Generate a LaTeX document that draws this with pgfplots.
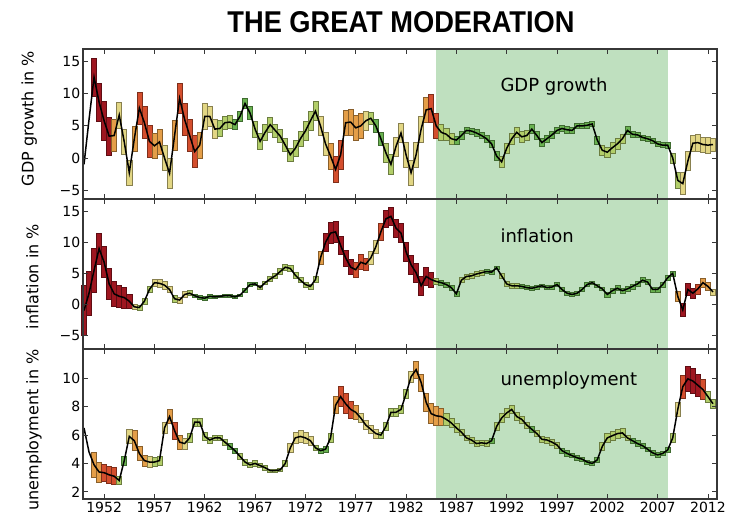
\documentclass[border=0pt]{standalone}
\usepackage{fontspec}
\setmainfont{DejaVu Sans}
\newfontfamily\titlefont{Liberation Sans}
\usepackage{graphicx}
\usepackage{pgfplots}
\usepackage{pgfplotstable}
\pgfplotsset{compat=1.18}

\definecolor{modgreen}{RGB}{191,224,191}
\definecolor{axisgray}{RGB}{55,55,55}

\pgfdeclareplotmark{ebox}{%
  \pgfpathrectanglecorners
    {\pgfplotspointaxisdirectionxy{-0.25}{-\errval}}%
    {\pgfplotspointaxisdirectionxy{0.25}{\errval}}%
  \pgfusepathqfillstroke}

\pgfplotstableread{
x y e c
1950.0 -1.0 0 0
1950.5 6.0 0 0
1951.0 12.6 3.0 5
1951.5 8.7 3.0 5
1952.0 5.8 3.0 5
1952.5 3.4 3.0 5
1953.0 3.5 2.5 3
1953.5 6.7 2.0 2
1954.0 2.5 2.0 2
1954.5 -2.3 2.0 2
1955.0 3.0 2.0 3
1955.5 7.8 2.5 4
1956.0 5.5 2.5 4
1956.5 2.6 2.5 4
1957.0 1.9 2.0 3
1957.5 2.5 2.0 3
1958.0 0.0 2.0 2
1958.5 -2.4 2.3 2
1959.0 3.5 2.3 3
1959.5 9.3 2.3 4
1960.0 6.0 2.5 4
1960.5 3.5 2.5 4
1961.0 1.0 2.5 4
1961.5 2.0 2.0 3
1962.0 6.5 2.0 2
1962.5 6.5 1.5 2
1963.0 4.5 1.5 2
1963.5 4.6 1.2 1
1964.0 5.5 1.0 1
1964.5 5.6 1.0 1
1965.0 5.2 0.8 0
1965.5 6.5 0.8 0
1966.0 8.5 0.8 0
1966.5 7.0 1.0 0
1967.0 4.5 1.2 1
1967.5 2.6 1.2 1
1968.0 4.0 1.2 1
1968.5 5.2 1.2 1
1969.0 4.3 1.0 1
1969.5 3.4 1.0 1
1970.0 2.0 1.0 1
1970.5 0.5 1.0 1
1971.0 1.5 1.2 1
1971.5 3.0 1.2 1
1972.0 4.2 1.5 1
1972.5 5.8 1.5 1
1973.0 7.3 1.5 1
1973.5 5.0 1.5 2
1974.0 2.2 1.8 2
1974.5 0.3 2.0 3
1975.0 -1.8 2.0 4
1975.5 0.5 2.2 4
1976.0 5.5 2.0 3
1976.5 5.6 2.0 3
1977.0 4.7 2.0 3
1977.5 5.0 2.0 3
1978.0 5.8 1.5 2
1978.5 6.2 1.0 1
1979.0 5.0 1.0 0
1979.5 3.0 1.0 0
1980.0 0.8 1.5 1
1980.5 -1.0 1.5 1
1981.0 1.8 1.5 2
1981.5 3.9 1.5 2
1982.0 0.5 2.0 2
1982.5 -2.3 2.0 2
1983.0 0.5 2.0 2
1983.5 4.5 2.0 2
1984.0 7.5 2.0 3
1984.5 7.7 2.2 4
1985.0 5.0 2.0 4
1985.5 4.0 1.2 1
1986.0 3.7 1.0 1
1986.5 3.0 0.8 1
1987.0 2.8 0.6 0
1987.5 3.5 0.6 0
1988.0 4.3 0.5 0
1988.5 4.2 0.5 0
1989.0 3.9 0.5 0
1989.5 3.5 0.5 0
1990.0 3.0 0.5 0
1990.5 2.2 0.6 0
1991.0 0.3 0.7 0
1991.5 -0.6 0.8 1
1992.0 1.5 0.8 1
1992.5 3.0 0.8 1
1993.0 4.0 0.8 1
1993.5 3.3 0.8 1
1994.0 3.5 0.8 1
1994.5 4.5 0.7 0
1995.0 3.5 0.6 0
1995.5 2.4 0.6 0
1996.0 3.0 0.6 0
1996.5 3.6 0.5 0
1997.0 4.3 0.5 0
1997.5 4.6 0.5 0
1998.0 4.4 0.5 0
1998.5 4.3 0.5 0
1999.0 5.0 0.4 0
1999.5 5.0 0.4 0
2000.0 5.1 0.4 0
2000.5 5.3 0.4 0
2001.0 2.8 0.6 0
2001.5 1.2 0.8 1
2002.0 0.9 0.8 1
2002.5 1.6 0.8 1
2003.0 2.2 0.8 1
2003.5 3.0 0.7 1
2004.0 4.3 0.6 0
2004.5 3.7 0.5 0
2005.0 3.6 0.4 0
2005.5 3.2 0.4 0
2006.0 3.0 0.4 0
2006.5 2.7 0.4 0
2007.0 2.2 0.4 0
2007.5 2.0 0.4 0
2008.0 2.0 0.5 0
2008.5 0.0 0.8 1
2009.0 -3.5 1.2 1
2009.5 -4.0 1.7 2
2010.0 -0.5 1.5 2
2010.5 2.3 1.3 2
2011.0 2.4 1.3 2
2011.5 2.1 1.2 2
2012.0 2.0 1.2 2
2012.5 2.1 1.0 2
}\gdp

\pgfplotstableread{
x y e c
1950.0 -1.0 4.0 5
1950.5 1.8 3.5 5
1951.0 5.5 3.5 5
1951.5 9.0 2.5 5
1952.0 6.8 2.5 5
1952.5 3.3 2.5 5
1953.0 1.7 2.0 5
1953.5 1.3 1.7 5
1954.0 1.1 1.7 5
1954.5 0.5 1.2 5
1955.0 -0.4 0.4 2
1955.5 -0.5 0.4 1
1956.0 0.5 0.5 1
1956.5 2.4 0.5 1
1957.0 3.5 0.6 2
1957.5 3.4 0.7 2
1958.0 3.1 0.7 2
1958.5 2.4 0.5 2
1959.0 0.9 0.5 1
1959.5 0.7 0.5 2
1960.0 1.6 0.5 2
1960.5 1.8 0.4 1
1961.0 1.4 0.3 0
1961.5 1.1 0.3 0
1962.0 1.0 0.3 0
1962.5 1.3 0.3 0
1963.0 1.2 0.2 0
1963.5 1.3 0.2 0
1964.0 1.4 0.2 0
1964.5 1.4 0.2 0
1965.0 1.2 0.2 0
1965.5 1.5 0.2 0
1966.0 2.3 0.3 0
1966.5 3.2 0.3 0
1967.0 3.3 0.3 0
1967.5 2.7 0.3 1
1968.0 3.5 0.3 1
1968.5 4.1 0.4 1
1969.0 4.6 0.4 1
1969.5 5.3 0.5 1
1970.0 6.0 0.5 1
1970.5 5.8 0.5 1
1971.0 4.7 0.5 1
1971.5 3.9 0.4 1
1972.0 3.2 0.4 1
1972.5 2.9 0.4 1
1973.0 4.0 0.5 1
1973.5 7.5 1.0 3
1974.0 10.0 1.5 5
1974.5 11.5 1.7 5
1975.0 11.7 1.7 5
1975.5 9.5 1.5 5
1976.0 7.5 1.3 5
1976.5 6.0 1.2 5
1977.0 5.6 1.2 4
1977.5 6.8 1.2 4
1978.0 6.5 1.0 4
1978.5 7.5 1.0 2
1979.0 9.3 1.0 2
1979.5 11.7 1.3 4
1980.0 13.8 1.3 5
1980.5 14.2 1.4 5
1981.0 12.3 1.4 5
1981.5 11.5 1.5 5
1982.0 8.5 1.5 5
1982.5 6.4 1.5 5
1983.0 5.1 1.5 5
1983.5 3.0 1.5 5
1984.0 4.5 1.5 5
1984.5 4.0 1.2 5
1985.0 3.7 0.5 1
1985.5 3.5 0.4 0
1986.0 3.2 0.4 0
1986.5 2.7 0.4 0
1987.0 1.7 0.4 0
1987.5 3.9 0.4 1
1988.0 4.5 0.4 1
1988.5 4.6 0.4 1
1989.0 4.9 0.4 1
1989.5 5.1 0.4 1
1990.0 5.3 0.3 0
1990.5 5.2 0.3 0
1991.0 5.9 0.3 0
1991.5 4.6 0.4 1
1992.0 3.3 0.4 1
1992.5 3.0 0.4 1
1993.0 3.0 0.4 1
1993.5 2.9 0.3 0
1994.0 2.7 0.3 0
1994.5 2.6 0.3 0
1995.0 2.8 0.3 0
1995.5 3.0 0.3 0
1996.0 2.7 0.3 0
1996.5 2.8 0.3 0
1997.0 3.2 0.3 0
1997.5 2.4 0.3 0
1998.0 1.8 0.3 0
1998.5 1.6 0.3 0
1999.0 1.8 0.3 0
1999.5 2.4 0.3 0
2000.0 3.2 0.3 0
2000.5 3.5 0.3 0
2001.0 3.0 0.3 0
2001.5 2.5 0.3 0
2002.0 1.6 0.4 0
2002.5 2.2 0.4 0
2003.0 2.6 0.4 0
2003.5 2.2 0.4 0
2004.0 2.5 0.4 0
2004.5 2.9 0.4 0
2005.0 3.3 0.4 0
2005.5 3.9 0.4 0
2006.0 3.6 0.4 0
2006.5 2.4 0.4 0
2007.0 2.4 0.4 0
2007.5 3.2 0.4 0
2008.0 4.3 0.4 0
2008.5 5.0 0.4 0
2009.0 1.3 0.8 3
2009.5 -0.9 1.0 5
2010.0 2.4 1.0 5
2010.5 1.8 0.8 5
2011.0 2.5 0.8 4
2011.5 3.5 0.7 3
2012.0 2.9 0.7 3
2012.5 2.0 0.5 2
}\infl

\pgfplotstableread{
x y e c
1950.0 6.5 0 0
1950.5 4.8 0 0
1951.0 3.9 0.9 3
1951.5 3.4 0.7 3
1952.0 3.35 0.6 4
1952.5 3.2 0.6 4
1953.0 3.1 0.6 4
1953.5 2.8 0.3 1
1954.0 4.2 0.3 0
1954.5 5.9 0.5 2
1955.0 5.6 0.7 3
1955.5 4.7 0.5 3
1956.0 4.2 0.4 3
1956.5 4.1 0.4 2
1957.0 4.1 0.3 1
1957.5 4.2 0.3 1
1958.0 6.5 0.4 2
1958.5 7.3 0.5 3
1959.0 6.3 0.6 4
1959.5 5.5 0.5 3
1960.0 5.4 0.4 2
1960.5 5.8 0.3 1
1961.0 6.9 0.3 1
1961.5 6.9 0.3 1
1962.0 5.9 0.3 1
1962.5 5.65 0.2 1
1963.0 5.8 0.2 1
1963.5 5.8 0.2 1
1964.0 5.5 0.2 1
1964.5 5.2 0.2 0
1965.0 4.9 0.2 0
1965.5 4.5 0.2 1
1966.0 4.1 0.2 1
1966.5 3.9 0.2 1
1967.0 4.0 0.2 1
1967.5 3.85 0.15 1
1968.0 3.7 0.15 1
1968.5 3.5 0.1 1
1969.0 3.5 0.1 1
1969.5 3.55 0.1 1
1970.0 4.0 0.2 1
1970.5 5.1 0.3 2
1971.0 5.8 0.4 2
1971.5 5.9 0.4 2
1972.0 5.8 0.4 2
1972.5 5.6 0.3 2
1973.0 5.1 0.2 1
1973.5 4.9 0.2 0
1974.0 5.0 0.2 0
1974.5 5.8 0.3 1
1975.0 8.1 0.6 3
1975.5 8.7 0.7 4
1976.0 8.2 0.7 4
1976.5 7.8 0.6 4
1977.0 7.6 0.5 3
1977.5 7.2 0.3 2
1978.0 6.7 0.3 2
1978.5 6.4 0.3 2
1979.0 6.1 0.3 2
1979.5 6.0 0.2 1
1980.0 6.6 0.3 1
1980.5 7.6 0.3 1
1981.0 7.6 0.3 1
1981.5 7.8 0.3 1
1982.0 8.9 0.3 1
1982.5 10.1 0.4 2
1983.0 10.6 0.6 3
1983.5 9.7 0.6 3
1984.0 8.3 0.6 3
1984.5 7.5 0.7 3
1985.0 7.35 0.7 3
1985.5 7.3 0.6 3
1986.0 7.1 0.4 1
1986.5 6.85 0.3 1
1987.0 6.5 0.3 1
1987.5 6.2 0.2 1
1988.0 5.8 0.2 1
1988.5 5.65 0.2 1
1989.0 5.4 0.2 1
1989.5 5.45 0.2 1
1990.0 5.4 0.2 1
1990.5 5.6 0.2 0
1991.0 6.6 0.3 1
1991.5 7.2 0.3 1
1992.0 7.55 0.3 1
1992.5 7.8 0.3 1
1993.0 7.3 0.3 1
1993.5 7.1 0.25 1
1994.0 6.7 0.2 1
1994.5 6.4 0.2 0
1995.0 6.1 0.2 1
1995.5 5.7 0.2 1
1996.0 5.65 0.2 1
1996.5 5.5 0.2 1
1997.0 5.3 0.2 1
1997.5 4.9 0.2 0
1998.0 4.7 0.2 0
1998.5 4.55 0.15 0
1999.0 4.4 0.15 0
1999.5 4.3 0.15 0
2000.0 4.1 0.15 0
2000.5 4.0 0.15 0
2001.0 4.25 0.2 0
2001.5 5.2 0.3 1
2002.0 5.8 0.3 1
2002.5 5.95 0.3 1
2003.0 6.1 0.3 1
2003.5 6.15 0.3 1
2004.0 5.8 0.2 1
2004.5 5.6 0.2 0
2005.0 5.4 0.2 0
2005.5 5.25 0.15 0
2006.0 5.0 0.15 0
2006.5 4.75 0.15 0
2007.0 4.6 0.15 0
2007.5 4.7 0.15 0
2008.0 4.95 0.2 0
2008.5 5.8 0.3 1
2009.0 7.8 0.5 2
2009.5 9.4 0.8 4
2010.0 9.95 0.9 5
2010.5 9.8 0.9 5
2011.0 9.5 0.8 5
2011.5 9.2 0.7 4
2012.0 8.7 0.4 1
2012.5 8.2 0.3 1
}\unemp

\pgfplotsset{
  panel/.style={
    scale only axis, width=634pt, height=150pt, anchor=south west,
    xmin=1949.9, xmax=2012.9,
    xtick={1952,1957,...,2012},
    tick align=inside, tick pos=both,
    major tick length=5pt,
    axis on top, clip mode=individual,
    axis line style={axisgray, line width=1.1pt},
    every tick/.style={axisgray, line width=0.9pt},
    tick label style={font=\fontsize{14}{16}\selectfont, inner sep=2.5pt},
    /pgf/number format/assume math mode=true,
    colormap={vol}{rgb255=(105,178,80) rgb255=(178,206,105) rgb255=(226,214,132) rgb255=(228,158,72) rgb255=(212,78,45) rgb255=(158,22,32)},
    point meta min=0, point meta max=5,
  },
  boxes/.style={scatter, only marks, mark=ebox,
    point meta=\thisrow{c},
    visualization depends on={\thisrow{e} \as \errval},
    scatter/use mapped color={draw=mapped color!60!black, fill=mapped color},
    mark options={line width=0.6pt},
    restrict expr to domain={\thisrow{e}}{0.01:100}},
  dline/.style={black, line width=1.5pt, no markers},
}
\newcommand\modspan{\fill[modgreen] ({axis cs:1985,0} |- {rel axis cs:0,0}) rectangle ({axis cs:2008,0} |- {rel axis cs:0,1});}

\begin{document}
\begin{tikzpicture}
\useasboundingbox (0pt,0pt) rectangle (731pt,516pt);
\node at (401pt,494pt) {\resizebox{347pt}{21pt}{\titlefont\bfseries THE GREAT MODERATION}};

\begin{axis}[panel, at={(83pt,317pt)},
  ymin=-6.4, ymax=17, ytick={-5,0,5,10,15}, yticklabels={−5,0,5,10,15},
  xticklabels={}]
\modspan
\addplot[boxes] table {\gdp};
\addplot[dline] table[x=x,y=y] {\gdp};
\end{axis}

\begin{axis}[panel, at={(83pt,167pt)},
  ymin=-7.2, ymax=17, ytick={-5,0,5,10,15}, yticklabels={−5,0,5,10,15},
  xticklabels={}]
\modspan
\addplot[boxes] table {\infl};
\addplot[dline] table[x=x,y=y] {\infl};
\end{axis}

\begin{axis}[panel, at={(83pt,17pt)},
  ymin=1.5, ymax=12.05, ytick={2,4,6,8,10}, yticklabels={2,4,6,8,10},
  xticklabels={1952,1957,1962,1967,1972,1977,1982,1987,1992,1997,2002,2007,2012}]
\modspan
\addplot[boxes] table {\unemp};
\addplot[dline] table[x=x,y=y] {\unemp};
\end{axis}

\node[anchor=base west, font=\fontsize{18}{20}\selectfont] at (497pt,424.3pt) {GDP growth};
\node[anchor=base west, font=\fontsize{18}{20}\selectfont] at (497pt,273.3pt) {inflation};
\node[anchor=base west, font=\fontsize{18}{20}\selectfont] at (497pt,130.7pt) {unemployment};

\node[rotate=90, anchor=base, font=\fontsize{16}{18}\selectfont] at (33.5pt,397.5pt) {GDP growth in \%};
\node[rotate=90, anchor=base, font=\fontsize{16}{18}\selectfont] at (38.3pt,239.5pt) {inflation in \%};
\node[rotate=90, anchor=base, font=\fontsize{16}{18}\selectfont] at (38.3pt,86pt) {unemployment in \%};
\end{tikzpicture}
\end{document}
